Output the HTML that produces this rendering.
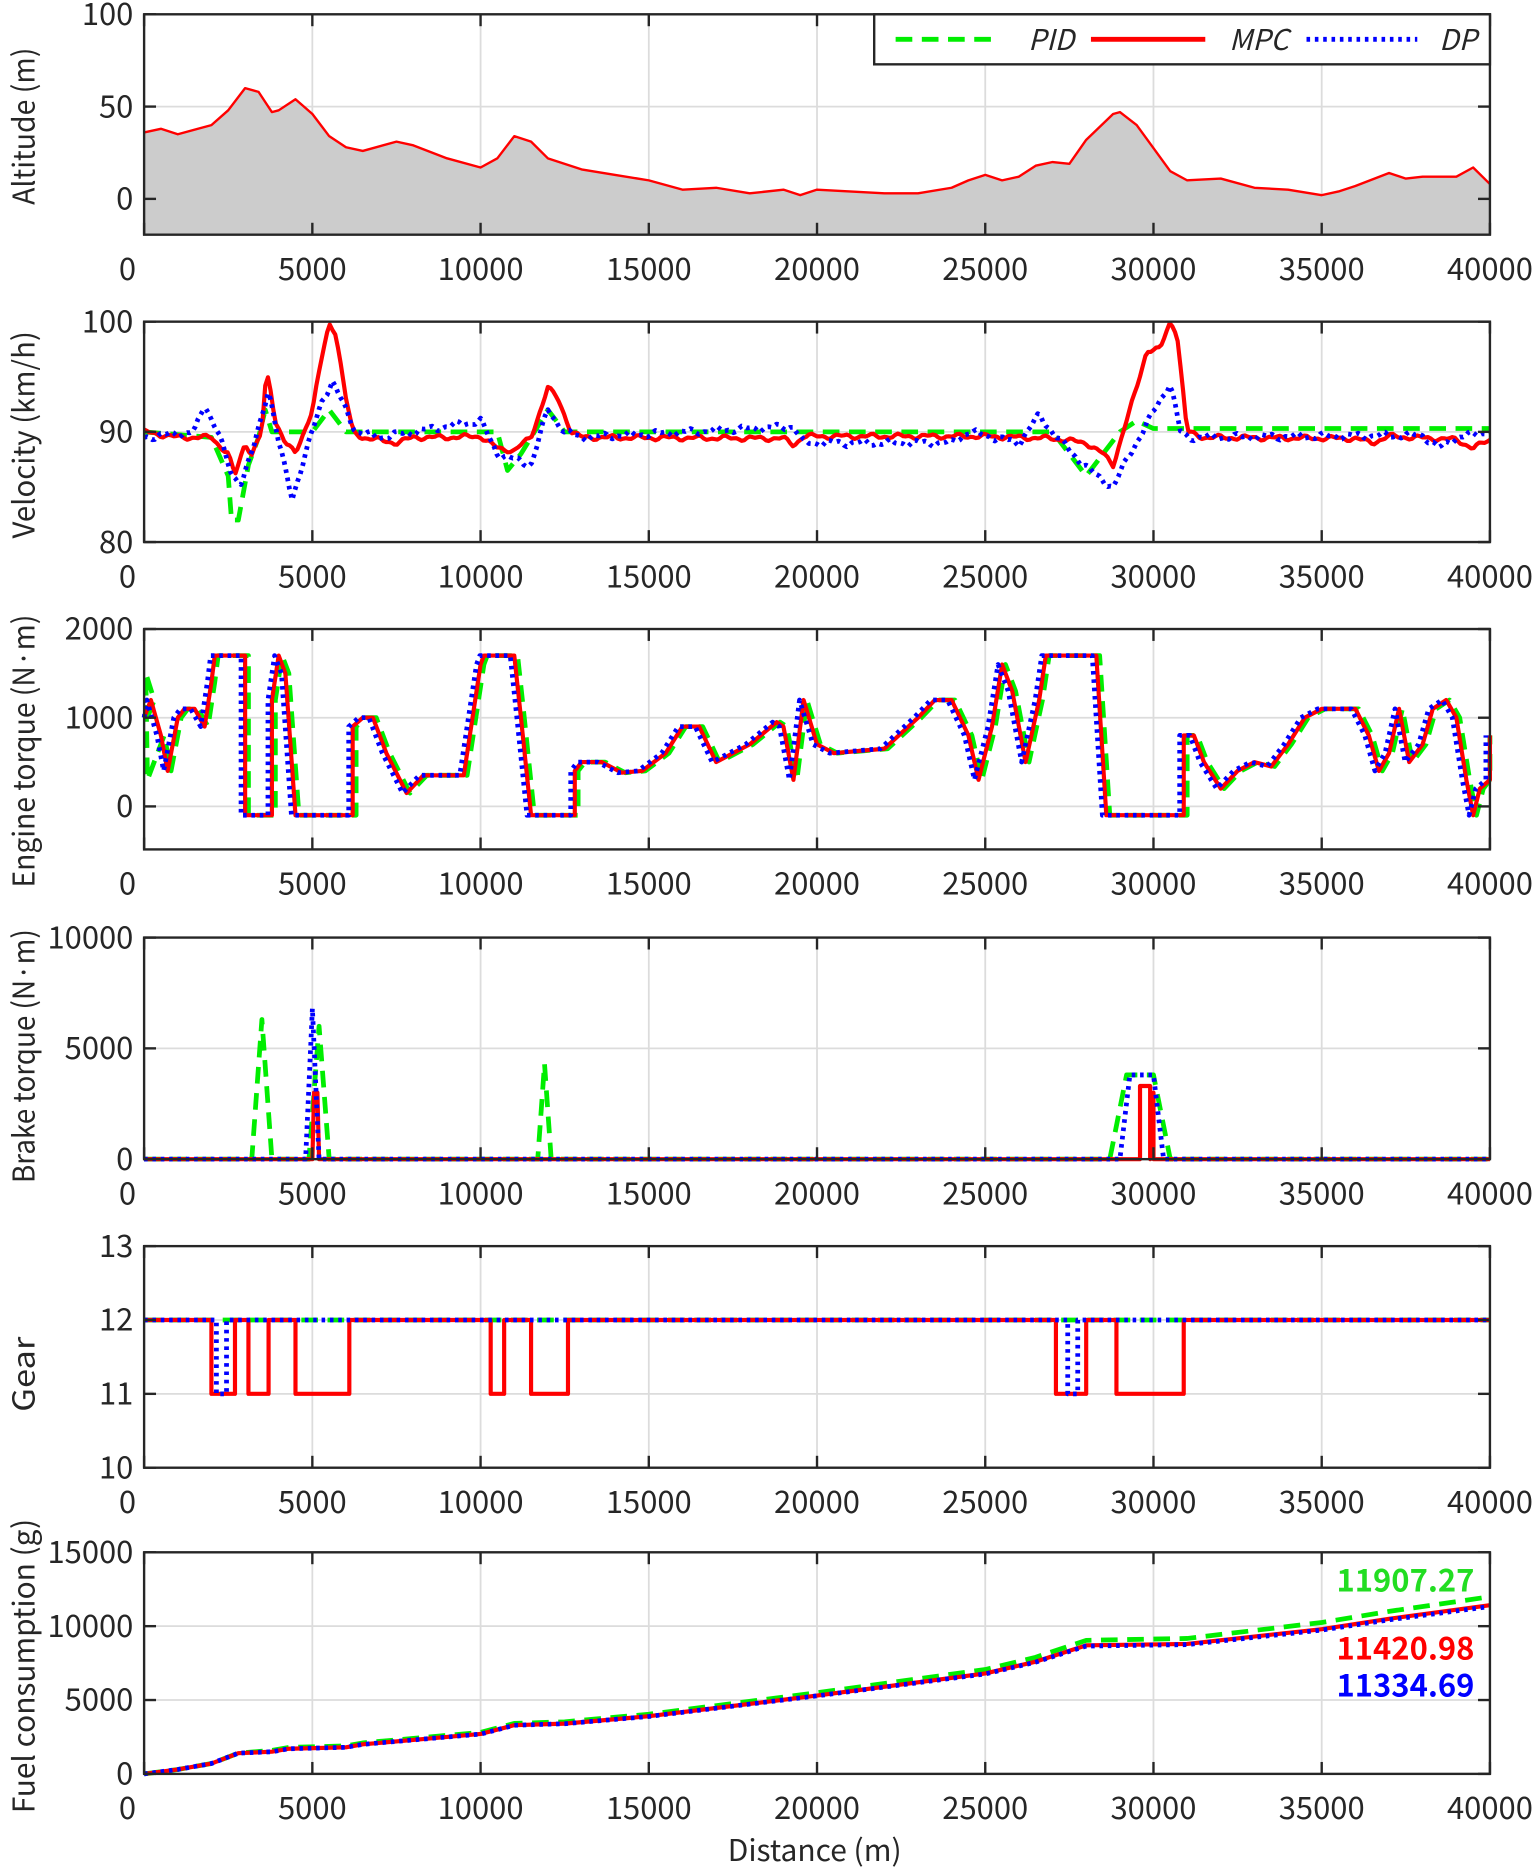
<!DOCTYPE html>
<html><head><meta charset="utf-8"><style>
html,body{margin:0;padding:0;background:#fff;}
svg{display:block;}
text{font-family:"Noto Sans CJK KR","Liberation Sans",sans-serif;fill:#262626;}
</style></head><body>
<svg id="s" width="1534" height="1868" viewBox="0 0 1288 1568" preserveAspectRatio="none" xmlns="http://www.w3.org/2000/svg"></svg>
<script>
const S=document.getElementById('s');let h='';
const X0=121,X1=1251;
const xs=x=>X0+(x*1000)/40000*(X1-X0);
const panels=[
 {top:12,bot:197,ymin:-19.4,ymax:100,ticks:[0,50,100],label:'Altitude (m)',ty:[40,172]},
 {top:270,bot:455,ymin:80,ymax:100,ticks:[80,90,100],label:'Velocity (km/h)',ty:[278,452]},
 {top:528,bot:713,ymin:-485,ymax:2000,ticks:[0,1000,2000],label:'Engine torque (N·m)',ty:[516,745]},
 {top:787,bot:973,ymin:0,ymax:10000,ticks:[0,5000,10000],label:'Brake torque (N·m)',ty:[780,993]},
 {top:1046,bot:1232,ymin:10,ymax:13,ticks:[10,11,12,13],label:'Gear',ty:[1122,1185]},
 {top:1303,bot:1489,ymin:0,ymax:15000,ticks:[0,5000,10000,15000],label:'Fuel consumption (g)',ty:[1275,1522]}];
function ys(p,y){return p.bot-(y-p.ymin)/(p.ymax-p.ymin)*(p.bot-p.top);}
function path(p,pts,col,w,dash){let d=pts.map((q,i)=>(i?'L':'M')+xs(q[0]).toFixed(1)+' '+ys(p,q[1]).toFixed(1)).join('');
 h+=`<path d="${d}" fill="none" stroke="${col}" stroke-width="${w}" ${dash?'stroke-dasharray="'+dash+'"':''} stroke-linejoin="round"/>`;}
function interp(pts,x){for(let i=1;i<pts.length;i++){if(x<=pts[i][0]){const a=pts[i-1],b=pts[i];const t=b[0]==a[0]?0:(x-a[0])/(b[0]-a[0]);return a[1]+t*(b[1]-a[1]);}}return pts[pts.length-1][1];}
function wobble(pts,amp,seed){const o=[];for(let x=0;x<=40.0001;x+=0.08){o.push([x,interp(pts,x)+amp*(Math.sin(x*7.3+seed)*0.6+Math.sin(x*17.1+seed*2)*0.4)]);}return o;}
const G=['#00ee00',4,'14 8'],R=['#ff0000',3.5,null],B=['#0000ff',4,'3 4'];
panels.forEach((p,i)=>{
 for(let k=0;k<=8;k++){const x=X0+k*(X1-X0)/8;h+=`<line x1="${x}" y1="${p.top}" x2="${x}" y2="${p.bot}" stroke="#dcdcdc" stroke-width="1.5"/>`;}
 p.ticks.forEach(t=>{const y=ys(p,t);h+=`<line x1="${X0}" y1="${y}" x2="${X1}" y2="${y}" stroke="#dcdcdc" stroke-width="1.5"/>`;
  h+=`<text x="112" y="${y+9}" font-size="26" text-anchor="end">${t}</text>`;});
});
const alt=[[0,36],[0.5,38],[1,35],[2,40],[2.5,48],[3,60],[3.4,58],[3.8,47],[4,48],[4.5,54],[5,46],[5.5,34],[6,28],[6.5,26],[7.5,31],[8,29],[9,22],[10,17],[10.5,22],[11,34],[11.5,31],[12,22],[13,16],[14,13],[15,10],[16,5],[17,6],[18,3],[19,5],[19.5,2],[20,5],[22,3],[23,3],[24,6],[24.5,10],[25,13],[25.5,10],[26,12],[26.5,18],[27,20],[27.5,19],[28,32],[28.8,46],[29,47],[29.5,40],[30.5,15],[31,10],[32,11],[33,6],[34,5],[35,2],[35.5,4],[36,7],[37,14],[37.5,11],[38,12],[39,12],[39.5,17],[40,8]];
{const p=panels[0];let d='M'+xs(0)+' '+p.bot+alt.map(q=>'L'+xs(q[0]).toFixed(1)+' '+ys(p,q[1]).toFixed(1)).join('')+'L'+xs(40)+' '+p.bot+'Z';
 h+=`<path d="${d}" fill="#cccccc"/>`;path(p,alt,'#ff0000',2);}
const vM=[[0,90],[1,89.5],[2,89.5],[2.5,88],[2.7,86],[3,89],[3.2,88],[3.5,90],[3.6,94],[3.7,95],[3.9,91],[4.2,89],[4.5,88],[5,92],[5.3,97],[5.5,99.8],[5.7,99],[6,93],[6.2,90],[6.5,89.5],[7.5,89],[8,89.5],[9,89.5],[10,89.6],[10.5,88.5],[11,88.3],[11.5,89.5],[12,94],[12.3,93],[12.7,90],[13,89.5],[19,89.4],[19.3,88.8],[19.6,89.6],[25,89.6],[27,89.4],[28,89],[28.5,88],[28.8,87],[29,89],[29.5,94],[29.8,97.4],[30.2,97.5],[30.5,100],[30.7,99],[31,90],[31.5,89.5],[36,89.4],[36.5,89],[37,89.6],[39,89.3],[39.5,88.5],[40,89.3]];
const vD=[[0,89.5],[1.5,90],[1.8,92.5],[2.2,90],[2.6,86],[2.9,85.5],[3.3,89],[3.7,94],[4,89],[4.4,84],[4.6,86],[5,90],[5.3,93],[5.6,94.5],[6,92],[6.3,90],[7,89.5],[10,91],[10.5,88],[11,87.5],[11.5,87],[12,92],[12.5,90],[13,89.5],[19.3,90.5],[19.6,89],[24,89],[24.5,90],[26,89],[26.6,91.5],[27,90],[27.6,88],[28.3,86],[28.8,85],[29.3,88],[30.5,94.5],[30.8,90],[31,89.5],[38,89.7],[38.5,88.5],[39,89.5],[40,90]];
const vP=[[0,90],[2,89.5],[2.5,86],[2.6,82],[2.8,82],[3.1,87],[3.4,89.5],[3.6,92],[3.8,90],[5,90],[5.5,92],[6,90],[10.5,90],[10.8,86.5],[11.2,88],[11.6,90],[12,92],[12.5,90],[27,90],[27.5,88],[28,86],[28.5,88],[29,90],[29.5,91],[30,90.3],[40,90.3]];
path(panels[1],vP,...G);path(panels[1],wobble(vM,0.25,1),...R);path(panels[1],wobble(vD,0.35,3),...B);
const tM=[[0,1000],[0.2,1200],[0.5,800],[0.7,400],[1,1000],[1.2,1100],[1.5,1100],[1.8,900],[2,1400],[2.1,1700],[3,1700],[3.0,-100],[3.8,-100],[3.8,1200],[4,1700],[4.2,1500],[4.5,-100],[6.2,-100],[6.2,900],[6.5,1000],[6.8,1000],[7.2,600],[7.8,150],[8.3,350],[9.5,350],[10,1600],[10.1,1700],[11,1700],[11.2,1000],[11.5,-100],[12.8,-100],[12.8,400],[13,500],[13.6,500],[14.2,380],[14.8,400],[15.5,600],[16,900],[16.5,900],[17,500],[18,700],[18.8,950],[19,900],[19.3,300],[19.6,1200],[20,700],[20.5,600],[22,650],[23,1000],[23.5,1200],[24,1200],[24.5,800],[24.8,300],[25.2,900],[25.5,1600],[25.8,1300],[26.2,500],[26.6,1200],[26.8,1700],[28.3,1700],[28.6,-100],[30.9,-100],[30.9,800],[31.2,800],[31.5,500],[32,200],[32.5,400],[33,500],[33.5,450],[34,700],[34.5,1000],[35,1100],[36,1100],[36.4,800],[36.7,400],[37,600],[37.3,1100],[37.6,500],[38,700],[38.3,1100],[38.7,1200],[39,1000],[39.3,300],[39.5,-100],[39.7,200],[40,300],[40,800]];
const tD=tM.map(q=>[Math.max(0,Math.min(40,q[0]-0.12)),q[1]]);
const tP=tM.map(q=>[Math.max(0,Math.min(40,q[0]+0.1)),q[1]]);
tP.splice(2,0,[0.05,1500],[0.1,300]);
path(panels[2],tP,...G);path(panels[2],tM,...R);path(panels[2],tD,...B);
const bP=[[0,0],[3.2,0],[3.5,6300],[3.8,0],[4.9,0],[5.2,6000],[5.5,0],[11.7,0],[11.9,4300],[12.1,0],[28.7,0],[29.2,3800],[30,3800],[30.5,0],[40,0]];
const bM=[[0,0],[5.0,0],[5.05,3000],[5.15,3000],[5.2,0],[29.6,0],[29.6,3300],[29.9,3300],[29.9,0],[30,3000],[30,0],[40,0]];
const bD=[[0,0],[4.8,0],[5.0,6800],[5.2,0],[29,0],[29.3,3800],[30,3800],[30.3,0],[40,0]];
path(panels[3],bP,...G);path(panels[3],bM,...R);path(panels[3],bD,...B);
function gear(segs){let a=[[0,12]];segs.forEach(s=>{a.push([s[0],12],[s[0],11],[s[1],11],[s[1],12]);});a.push([40,12]);return a;}
path(panels[4],[[0,12],[40,12]],...G);
path(panels[4],gear([[2.0,2.7],[3.1,3.7],[4.5,6.1],[10.3,10.7],[11.5,12.6],[27.1,28.0],[28.9,30.9]]),...R);
path(panels[4],gear([[2.15,2.45],[27.45,27.75]]),...B);
const fM=[[0,0],[1,300],[2,700],[2.8,1400],[3.8,1500],[4.3,1700],[6,1800],[6.5,2000],[8,2300],[10,2700],[11,3300],[12.5,3400],[15,3900],[20,5300],[25,6800],[26.5,7600],[28,8700],[31,8800],[35,9800],[37,10500],[40,11420]];
const fP=fM.map(q=>[q[0],q[1]*(1+0.043*q[0]/40)+(q[0]>3?80:0)]);
const fD=fM.map(q=>[q[0],q[1]*(1-0.0075*q[0]/40)]);
path(panels[5],fP,...G);path(panels[5],fM,...R);path(panels[5],fD,...B);
panels.forEach((p,i)=>{
 h+=`<rect x="${X0}" y="${p.top}" width="${X1-X0}" height="${p.bot-p.top}" fill="none" stroke="#262626" stroke-width="2"/>`;
 for(let k=0;k<=8;k++){const x=X0+k*(X1-X0)/8;h+=`<line x1="${x}" y1="${p.top}" x2="${x}" y2="${p.top+10}" stroke="#262626" stroke-width="2"/><line x1="${x}" y1="${p.bot}" x2="${x}" y2="${p.bot-10}" stroke="#262626" stroke-width="2"/>`;
  h+=`<text x="${k==0?107:x}" y="${p.bot+38}" font-size="26" text-anchor="middle">${k*5000}</text>`;}
 p.ticks.forEach(t=>{const y=ys(p,t);h+=`<line x1="${X0}" y1="${y}" x2="${X0+10}" y2="${y}" stroke="#262626" stroke-width="2"/><line x1="${X1}" y1="${y}" x2="${X1-10}" y2="${y}" stroke="#262626" stroke-width="2"/>`;});
 const cy=(p.ty[0]+p.ty[1])/2,L=p.ty[1]-p.ty[0];
 h+=`<text transform="translate(29,${cy}) rotate(-90)" font-size="25" text-anchor="middle" textLength="${L}" lengthAdjust="spacingAndGlyphs">${p.label}</text>`;
});
h+=`<text x="684" y="1562" font-size="25" text-anchor="middle" textLength="146" lengthAdjust="spacingAndGlyphs">Distance (m)</text>`;
h+=`<rect x="734" y="12" width="517" height="42" fill="#fff" stroke="#262626" stroke-width="2"/>`;
h+=`<line x1="752" y1="33" x2="840" y2="33" stroke="#00ee00" stroke-width="4" stroke-dasharray="14 8"/><text x="902" y="42" font-size="24" font-style="italic" text-anchor="end">PID</text>`;
h+=`<line x1="916" y1="33" x2="1012" y2="33" stroke="#ff0000" stroke-width="4"/><text x="1082" y="42" font-size="24" font-style="italic" text-anchor="end">MPC</text>`;
h+=`<line x1="1097" y1="33" x2="1190" y2="33" stroke="#0000ff" stroke-width="4" stroke-dasharray="3 4"/><text x="1240" y="42" font-size="24" font-style="italic" text-anchor="end">DP</text>`;
h+=`<text x="1238" y="1336" font-size="26" font-weight="bold" text-anchor="end" style="fill:#22dd22">11907.27</text>`;
h+=`<text x="1238" y="1393" font-size="26" font-weight="bold" text-anchor="end" style="fill:#ff0000">11420.98</text>`;
h+=`<text x="1238" y="1424" font-size="26" font-weight="bold" text-anchor="end" style="fill:#0000ff">11334.69</text>`;
S.innerHTML=h;
</script>
</body></html>
